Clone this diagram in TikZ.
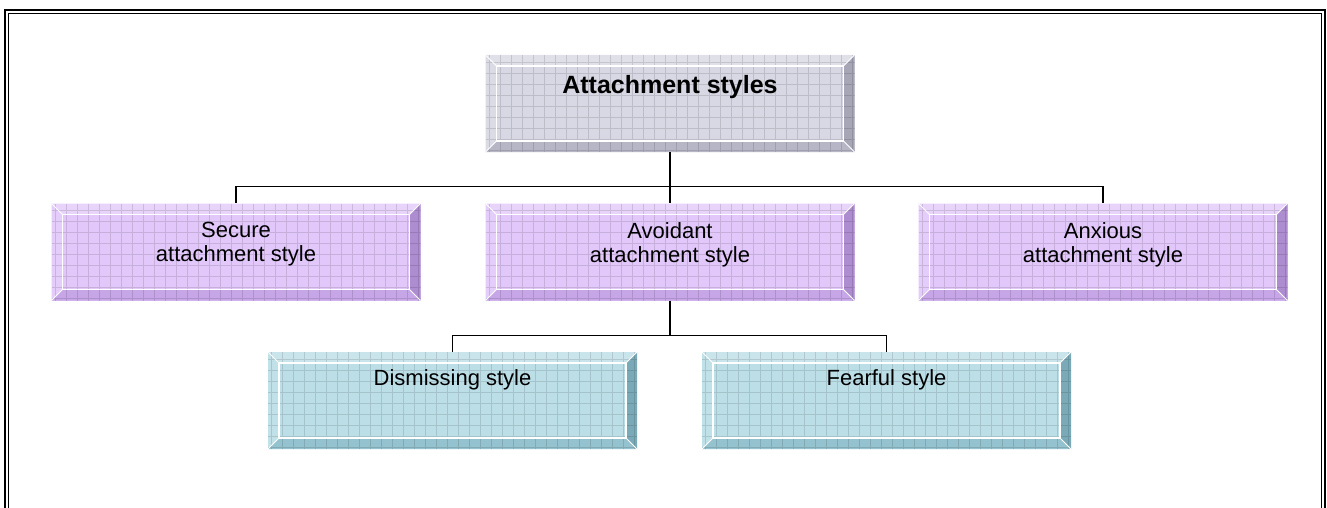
\documentclass[tikz,border=0pt]{standalone}
\usepackage{fontspec}
\setmainfont{Liberation Sans}
\usepackage{xcolor}
\usepackage{tikz}
\usetikzlibrary{positioning, calc}
\definecolor{greyface}{HTML}{D8D8E4}
\definecolor{greyright}{HTML}{A6A6B6}
\definecolor{greybottom}{HTML}{B6B6C6}
\definecolor{lilacface}{HTML}{E2C8FA}
\definecolor{lilacright}{HTML}{AE8CD0}
\definecolor{lilacbottom}{HTML}{C6A6E6}
\definecolor{tealface}{HTML}{BCDEE6}
\definecolor{tealright}{HTML}{7AAAB8}
\definecolor{tealbottom}{HTML}{94C2CE}

\tikzset{
  bevelbox/.style n args={3}{
    minimum width=369pt, minimum height=97pt, inner sep=0pt,
    path picture={
      \coordinate (bA) at (path picture bounding box.north west);
      \coordinate (bB) at (path picture bounding box.north east);
      \coordinate (bC) at (path picture bounding box.south east);
      \coordinate (bD) at (path picture bounding box.south west);
      \coordinate (iA) at ([shift={(11pt,-11pt)}]bA);
      \coordinate (iB) at ([shift={(-11pt,-11pt)}]bB);
      \coordinate (iC) at ([shift={(-11pt,11pt)}]bC);
      \coordinate (iD) at ([shift={(11pt,11pt)}]bD);
      \fill[#1] (bA) rectangle (bC);
      \fill[#1!80!white] (bA) -- (bB) -- (iB) -- (iA) -- cycle;
      \fill[#1!92!white] (bA) -- (iA) -- (iD) -- (bD) -- cycle;
      \fill[#2] (bB) -- (bC) -- (iC) -- (iB) -- cycle;
      \fill[#3] (bD) -- (iD) -- (iC) -- (bC) -- cycle;
      \draw[black, opacity=0.12, line width=0.7pt] (bD) grid[step=11pt] (bB);
      \draw[white, line width=1.3pt] (iA) rectangle (iC);
      \draw[white, line width=1pt] (bA) -- (iA) (bB) -- (iB) (bC) -- (iC) (bD) -- (iD);
    }
  },
  greybox/.style={bevelbox={greyface}{greyright}{greybottom}},
  lilacbox/.style={bevelbox={lilacface}{lilacright}{lilacbottom}},
  tealbox/.style={bevelbox={tealface}{tealright}{tealbottom}},
  conn/.style={draw=black, line width=1.4pt}
}

% text sits near the top edge of each box
\newcommand{\boxtext}[2]{\parbox[c][#1pt][t]{340pt}{\centering\fontsize{22}{24}\selectfont #2}}

\begin{document}
\begin{tikzpicture}[x=1pt, y=-1pt]
  \useasboundingbox (0,0) rectangle (1327,508);
  \fill[white] (0,0) rectangle (1327,508);
  % double frame
  \draw[line width=2.6pt] (5,530) -- (5,10) -- (1325,10) -- (1325,530);
  \draw[line width=1.2pt] (8.5,530) -- (8.5,13.5) -- (1321.5,13.5) -- (1321.5,530);

  \node[greybox] (styles) at (670,103.5)
    {\parbox[c][57pt][t]{340pt}{\centering\fontsize{25}{28}\selectfont\bfseries Attachment styles}};

  \node[lilacbox] (secure)  at (236,252)  {\boxtext{59}{Secure\\attachment style}};
  \node[lilacbox] (avoidant) at (670,252) {\boxtext{59}{Avoidant\\attachment style}};
  \node[lilacbox] (anxious) at (1103,252) {\boxtext{59}{Anxious\\attachment style}};

  \node[tealbox] (dismissing) at (452.5,400.5) {\boxtext{61}{Dismissing style}};
  \node[tealbox] (fearful)    at (886.5,400.5) {\boxtext{61}{Fearful style}};

  \draw[conn] (styles.south) -- ++(0,34) coordinate (topjoin) -| (secure.north);
  \draw[conn] (topjoin) -| (anxious.north);
  \draw[conn] (topjoin) -- (avoidant.north);

  \draw[conn] (avoidant.south) -- ++(0,35) coordinate (lowjoin) -| (dismissing.north);
  \draw[conn] (lowjoin) -| (fearful.north);
\end{tikzpicture}
\end{document}
